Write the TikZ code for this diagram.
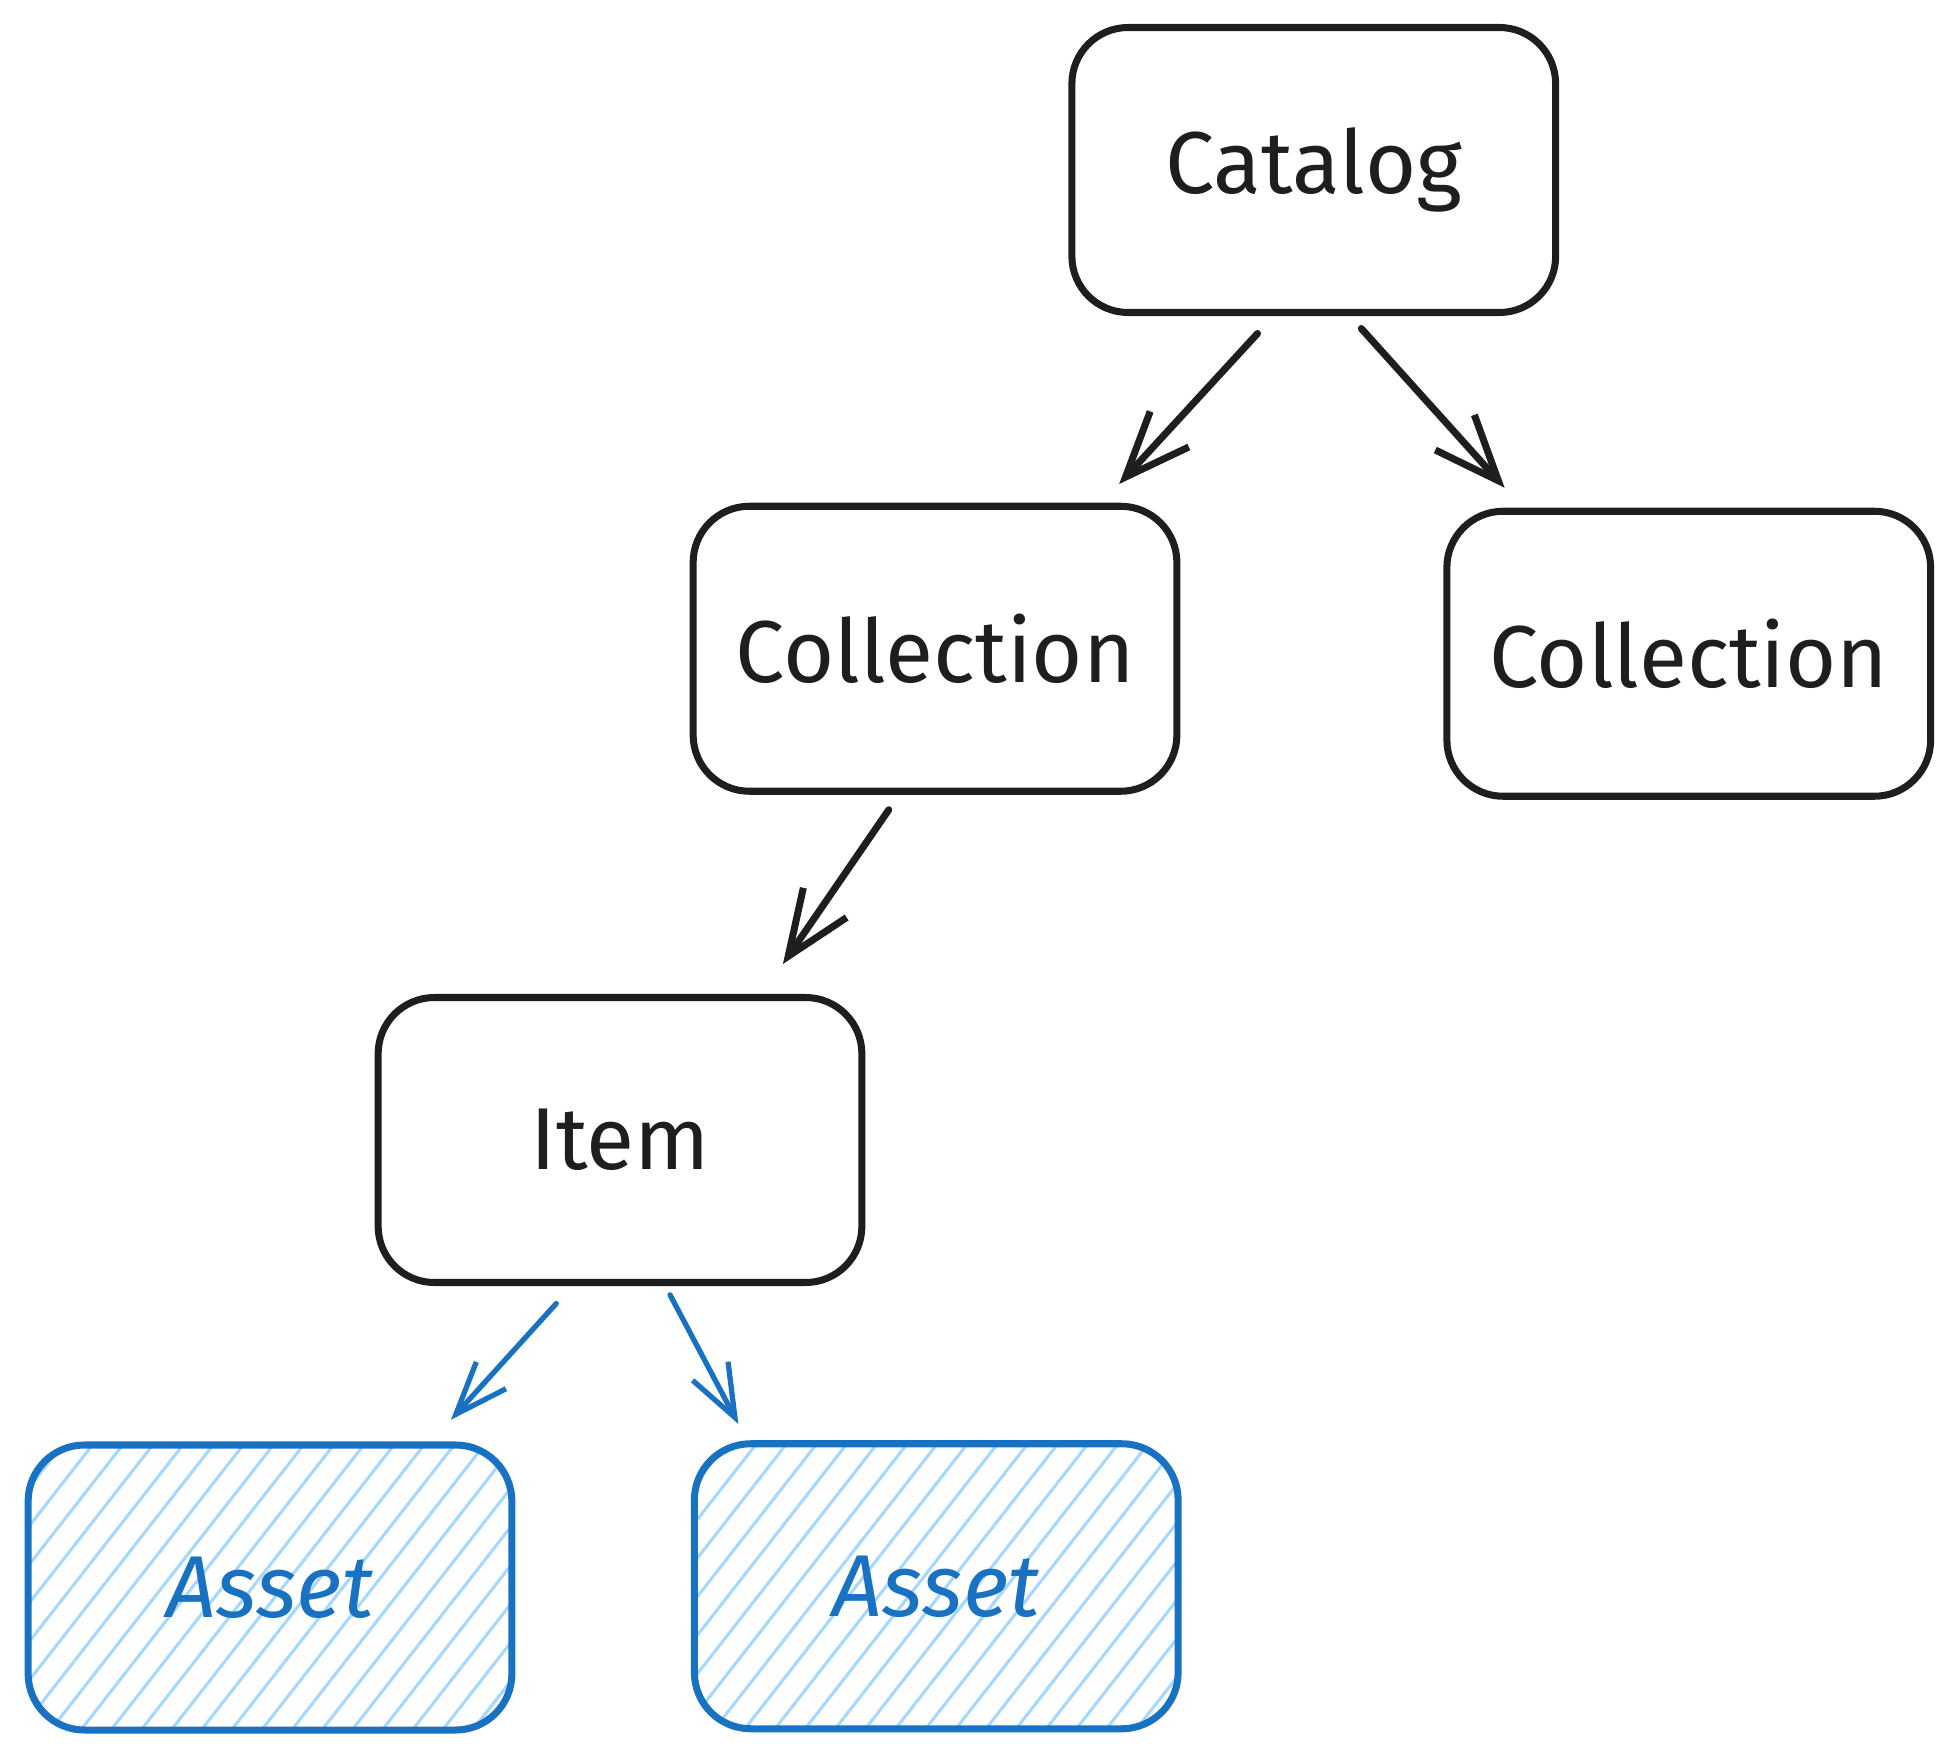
\documentclass[tikz,border=0pt]{standalone}
\usepackage{fontspec}
\setmainfont{Fira Sans}
\usetikzlibrary{arrows.meta,patterns.meta}
\definecolor{ink}{HTML}{1E1E1E}
\definecolor{asset}{HTML}{1971C2}
\definecolor{hatch}{HTML}{A5D8FF}
\begin{document}
\begin{tikzpicture}[
    box/.style = {draw = ink, line width = 1.6pt, rounded corners = 0.45cm,
        minimum width = 3.87cm, minimum height = 2.28cm, inner sep = 0pt,
        text = ink, font = \fontsize{20}{24}\selectfont},
    assetbox/.style = {box, draw = asset, text = asset,
        pattern = {Lines[angle = 52, distance = 0.19cm, line width = 0.7pt]},
        pattern color = hatch, font = \fontsize{20}{24}\selectfont\itshape},
    link/.style = {ink, line width = 1.6pt, line cap = round,
        -{Straight Barb[length = 0.52cm, width = 0.42cm, line width = 1.6pt]}},
    assetlink/.style = {link, asset, line width = 1.2pt,
        -{Straight Barb[length = 0.42cm, width = 0.32cm, line width = 1.2pt]}}
    ]
    \useasboundingbox (0, 0) rectangle (15.68, 14.05);

    \node [box] (catalog) at (10.51, 12.69) {Catalog};
    \node [box] (colA) at (7.48, 8.86) {Collection};
    \node [box] (colB) at (13.51, 8.82) {Collection};
    \node [box] (item) at (4.96, 4.93) {Item};
    \node [assetbox] (assetA) at (2.16, 1.35) {Asset};
    \node [assetbox] (assetB) at (7.49, 1.36) {Asset};

    \draw [link] ([shift = {(-0.45, -0.14)}] catalog.south)
        -- ([shift = {(-0.49, 0.15)}] colA.north east);
    \draw [link] ([shift = {(0.38, -0.10)}] catalog.south)
        -- ([shift = {(0.49, 0.16)}] colB.north west);
    \draw [link] ([shift = {(-0.37, -0.12)}] colA.south)
        -- ([shift = {(-0.66, 0.24)}] item.north east);
    \draw [assetlink] ([shift = {(-0.51, -0.14)}] item.south)
        -- ([shift = {(-0.50, 0.19)}] assetA.north east);
    \draw [assetlink] ([shift = {(0.40, -0.07)}] item.south)
        -- ([shift = {(0.38, 0.13)}] assetB.north west);
\end{tikzpicture}
\end{document}
